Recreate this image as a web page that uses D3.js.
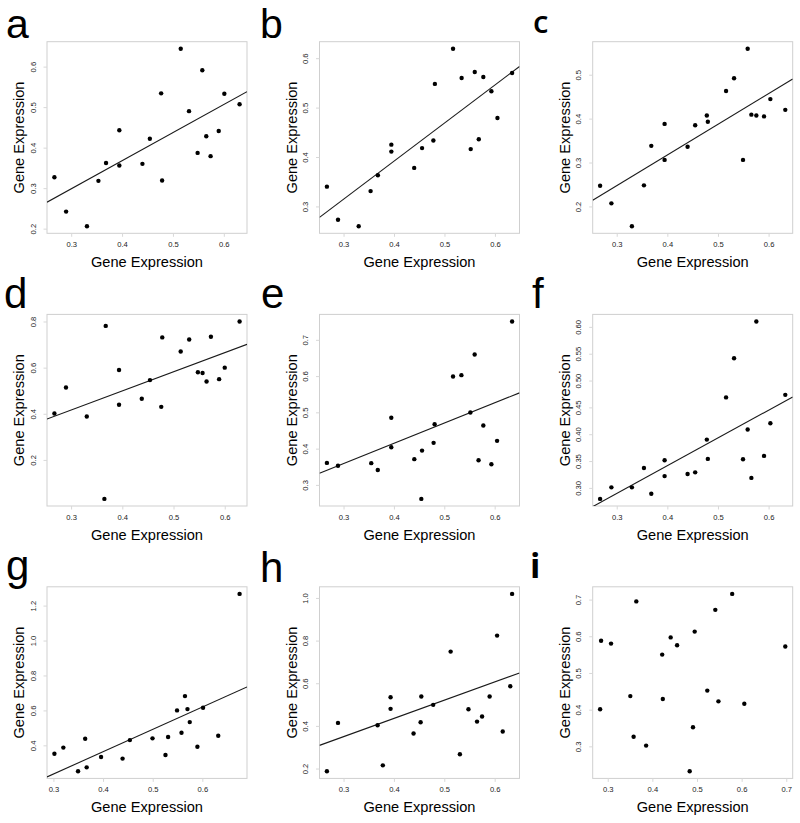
<!DOCTYPE html>
<html><head><meta charset="utf-8">
<script src="https://cdn.jsdelivr.net/npm/d3@7"></script>
<style>body{margin:0;background:#fff}svg{display:block}</style>
</head><body><svg id="chart" width="800" height="823"></svg>
<script>
// ---------- DATA ----------
const panelLetters = ["a","b","c","d","e","f","g","h","i"];
const axisTitle = "Gene Expression";

const xA = [0.267,0.290,0.331,0.3535,0.3685,0.3946,0.3946,0.440,0.4546,0.4768,0.4787,0.5153,0.5316,0.5485,0.5577,0.5655,0.574,0.590,0.601,0.631];
const yA = [0.327,0.242,0.206,0.318,0.362,0.443,0.356,0.360,0.422,0.534,0.319,0.644,0.490,0.387,0.591,0.428,0.379,0.441,0.533,0.507];

const xB = [0.267,0.289,0.330,0.3536,0.368,0.3947,0.3947,0.440,0.4556,0.478,0.481,0.517,0.534,0.552,0.560,0.568,0.577,0.593,0.605,0.634];
const yB = [0.340,0.273,0.260,0.331,0.363,0.425,0.411,0.378,0.418,0.4335,0.548,0.619,0.560,0.416,0.572,0.436,0.562,0.533,0.479,0.570];

const xC = [0.2672,0.2895,0.330,0.3538,0.3683,0.3946,0.3946,0.440,0.455,0.478,0.480,0.516,0.5318,0.5495,0.5587,0.566,0.5758,0.591,0.6035,0.633];
const yC = [0.247,0.207,0.155,0.248,0.338,0.388,0.306,0.336,0.385,0.407,0.393,0.463,0.492,0.306,0.559,0.409,0.407,0.405,0.4445,0.420];

const xD = [0.2674,0.290,0.3306,0.365,0.3676,0.3936,0.3936,0.438,0.454,0.476,0.478,0.514,0.5306,0.5476,0.5567,0.5645,0.573,0.589,0.600,0.629];
const yD = [0.401,0.514,0.388,0.031,0.781,0.590,0.439,0.465,0.546,0.430,0.731,0.670,0.722,0.580,0.577,0.540,0.734,0.550,0.600,0.800];

const xE = [0.267,0.289,0.355,0.368,0.3948,0.3948,0.4405,0.4544,0.4558,0.4788,0.4808,0.5174,0.534,0.5518,0.5603,0.568,0.5775,0.5935,0.6048,0.6346];
const yE = [0.3607,0.353,0.360,0.341,0.485,0.404,0.371,0.2614,0.3946,0.4159,0.4674,0.599,0.6026,0.4995,0.6594,0.368,0.4636,0.357,0.4214,0.7505];

const xF = [0.2672,0.2895,0.330,0.3538,0.3683,0.3946,0.3946,0.440,0.455,0.478,0.480,0.516,0.5318,0.5495,0.5587,0.566,0.5758,0.591,0.6035,0.633];
const yF = [0.2795,0.301,0.301,0.337,0.289,0.3516,0.322,0.326,0.329,0.390,0.354,0.4686,0.5416,0.3534,0.4087,0.3186,0.610,0.3596,0.4205,0.4733];

const xG = [0.302,0.320,0.3496,0.364,0.367,0.396,0.4393,0.454,0.4996,0.5257,0.531,0.549,0.558,0.565,0.570,0.5746,0.590,0.6014,0.632,0.675];
const yG = [0.352,0.387,0.2514,0.438,0.274,0.333,0.324,0.430,0.440,0.345,0.448,0.600,0.472,0.682,0.6076,0.533,0.392,0.615,0.455,1.267];

const xH = [0.267,0.289,0.3676,0.378,0.3934,0.3934,0.439,0.453,0.4544,0.478,0.5126,0.531,0.548,0.565,0.575,0.590,0.6048,0.616,0.631,0.6346];
const yH = [0.187,0.414,0.403,0.215,0.534,0.480,0.364,0.417,0.5375,0.4986,0.7485,0.267,0.478,0.420,0.4438,0.5375,0.8235,0.3735,0.586,1.019];

const xI = [0.2851,0.2829,0.3074,0.3506,0.358,0.364,0.386,0.422,0.4234,0.441,0.4554,0.4836,0.491,0.4948,0.523,0.541,0.548,0.5788,0.606,0.6978];
const yI = [0.588,0.401,0.580,0.437,0.326,0.695,0.302,0.550,0.429,0.597,0.5755,0.232,0.352,0.6127,0.452,0.672,0.4227,0.7155,0.416,0.572];

// fitted regression lines (slope, intercept); panel i has none
const fitSlope     = [0.694, 0.770, 0.699, 0.828, 0.5586, 0.517, 1.279, 0.856, null];
const fitIntercept = [0.0902,0.0837,0.0375,0.168, 0.191, 0.1345,-0.148,0.0927,null];

// tick labels
const xTicksStd = ["0.3","0.4","0.5","0.6"];
const xTicksI   = ["0.3","0.4","0.5","0.6","0.7"];
const yTicksA = ["0.2","0.3","0.4","0.5","0.6"];
const yTicksB = ["0.3","0.4","0.5","0.6"];
const yTicksC = ["0.2","0.3","0.4","0.5"];
const yTicksD = ["0.2","0.4","0.6","0.8"];
const yTicksE = ["0.3","0.4","0.5","0.6","0.7"];
const yTicksF = ["0.30","0.35","0.40","0.45","0.50","0.55","0.60"];
const yTicksG = ["0.4","0.6","0.8","1.0","1.2"];
const yTicksH = ["0.2","0.4","0.6","0.8","1.0"];
const yTicksI = ["0.3","0.4","0.5","0.6","0.7"];

// ---------- BUILD ----------
const xsAll = [xA,xB,xC,xD,xE,xF,xG,xH,xI];
const ysAll = [yA,yB,yC,yD,yE,yF,yG,yH,yI];
const xtAll = [xTicksStd,xTicksStd,xTicksStd,xTicksStd,xTicksStd,xTicksStd,xTicksStd,xTicksStd,xTicksI];
const ytAll = [yTicksA,yTicksB,yTicksC,yTicksD,yTicksE,yTicksF,yTicksG,yTicksH,yTicksI];

const colLeft = [47, 319.5, 592.7];
const rowTop = [41.7, 314.4, 586.8];
const PW = 200, PH = 191.6;

// letter placement (x, baseline, font, size, weight)
const letterStyle = [
  [6,38,"Liberation Sans",41,400],
  [260,38,"Liberation Sans",41,400],
  [533,33,"Open Sans",31,600],
  [4,308,"Liberation Sans",42,400],
  [261,308,"Liberation Sans",42,400],
  [532,308,"Liberation Sans",42,400],
  [6,580,"Liberation Sans",42,400],
  [260,581.5,"Liberation Sans",42,400],
  [530,578,"Open Sans",34,700]
];

const svg = d3.select("#chart");
const defs = svg.append("defs");

function rExtent(arr){
  const [lo,hi] = d3.extent(arr);
  const pad = (hi-lo)*0.04;
  return [lo-pad, hi+pad];
}

panelLetters.forEach((L,k)=>{
  const col = k%3, row = Math.floor(k/3);
  const left = colLeft[col], top = rowTop[row];
  const xs = xsAll[k], ys = ysAll[k];
  const x = d3.scaleLinear().domain(rExtent(xs)).range([left,left+PW]);
  const y = d3.scaleLinear().domain(rExtent(ys)).range([top+PH,top]);
  const g = svg.append("g");

  // box
  g.append("rect").attr("x",left).attr("y",top).attr("width",PW).attr("height",PH)
    .attr("fill","none").attr("stroke","#cfcfcf").attr("stroke-width",1);

  // axes
  const xt = xtAll[k].map(Number), yt = ytAll[k].map(Number);
  const xAxis = d3.axisBottom(x).tickValues(xt).tickSize(3.5).tickPadding(5)
     .tickFormat((d,i)=>xtAll[k][i]);
  const ax = g.append("g").attr("transform",`translate(0,${top+PH})`).call(xAxis);
  ax.select(".domain").remove();
  ax.selectAll(".tick line").attr("stroke","#d8d8d8");
  ax.selectAll(".tick text").attr("font-family","Liberation Sans, Arial, sans-serif")
    .attr("font-size",7.6).attr("fill","#222").attr("dy","0.71em");

  const yAxis = d3.axisLeft(y).tickValues(yt).tickSize(3.5).tickPadding(0)
     .tickFormat((d,i)=>ytAll[k][i]);
  const ay = g.append("g").attr("transform",`translate(${left},0)`).call(yAxis);
  ay.select(".domain").remove();
  ay.selectAll(".tick line").attr("stroke","#d8d8d8");
  ay.selectAll(".tick text").attr("font-family","Liberation Sans, Arial, sans-serif")
    .attr("font-size",7.6).attr("fill","#222")
    .attr("x",null).attr("dy",null)
    .attr("text-anchor","middle")
    .attr("transform","translate(-11.5,0) rotate(-90)");

  // regression line
  if (fitSlope[k] !== null){
    const cid = "clip"+k;
    defs.append("clipPath").attr("id",cid).append("rect")
      .attr("x",left).attr("y",top).attr("width",PW).attr("height",PH);
    const [d0,d1] = x.domain();
    const ln = d3.line().x(d=>x(d)).y(d=>y(fitIntercept[k]+fitSlope[k]*d));
    g.append("path").datum([d0,d1]).attr("d",ln)
      .attr("clip-path",`url(#${cid})`)
      .attr("stroke","#1a1a1a").attr("stroke-width",1.1).attr("fill","none");
  }

  // points
  g.selectAll("circle.pt").data(xs.map((v,i)=>[v,ys[i]])).enter().append("circle")
    .attr("cx",d=>x(d[0])).attr("cy",d=>y(d[1])).attr("r",2.2).attr("fill","#000");

  // axis titles
  g.append("text").attr("x",left+PW/2).attr("y",top+PH+33.5)
    .attr("text-anchor","middle").attr("font-family","Liberation Sans, Arial, sans-serif")
    .attr("font-size",14.6).attr("fill","#000").text(axisTitle);
  g.append("text").attr("transform",`translate(${left-23},${top+PH/2}) rotate(-90)`)
    .attr("text-anchor","middle").attr("font-family","Liberation Sans, Arial, sans-serif")
    .attr("font-size",14.6).attr("fill","#000").text(axisTitle);

  // panel letter
  const s = letterStyle[k];
  svg.append("text").attr("x",s[0]).attr("y",s[1])
    .attr("font-family",s[2]).attr("font-size",s[3]).attr("font-weight",s[4])
    .attr("fill","#000").text(L);
});
</script>
</body></html>
